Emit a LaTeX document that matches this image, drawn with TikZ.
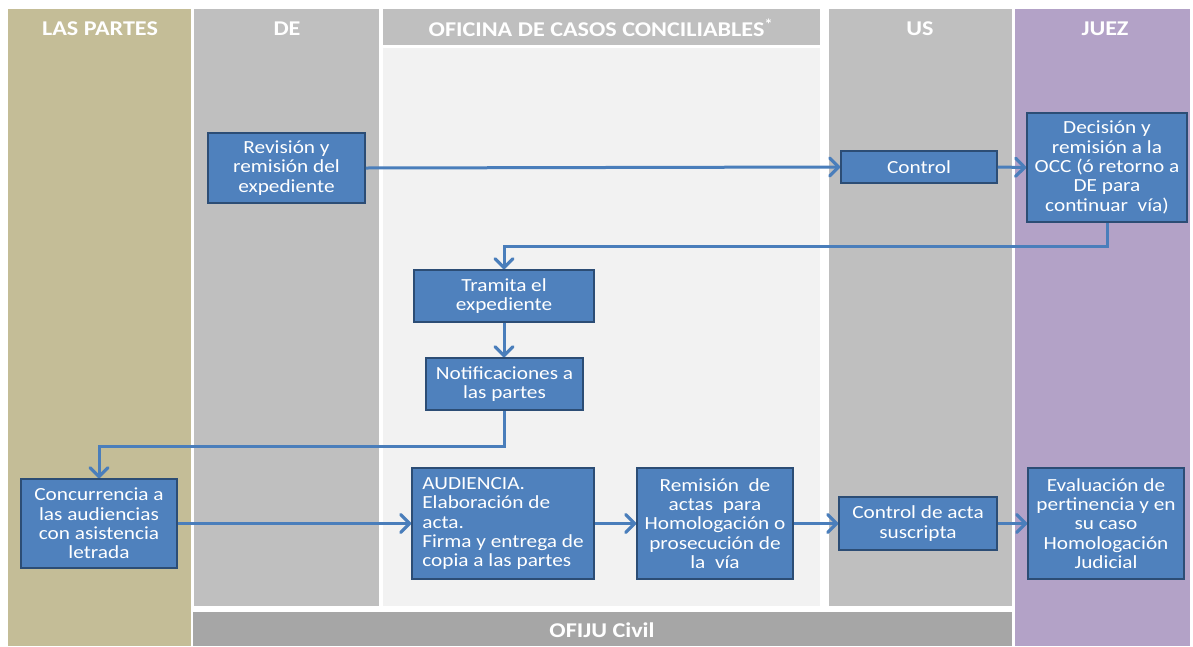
\documentclass[tikz,border=0pt]{standalone}
\usepackage{fontspec}
\setmainfont{Carlito}[FakeStretch=1.15]
\usetikzlibrary{arrows.meta}
\definecolor{tancol}{HTML}{C4BD97}
\definecolor{graycol}{HTML}{BFBFBF}
\definecolor{lightcol}{HTML}{F2F2F2}
\definecolor{purplecol}{HTML}{B3A2C7}
\definecolor{ofijucol}{HTML}{A6A6A6}
\definecolor{boxblue}{HTML}{4F81BD}
\definecolor{boxborder}{HTML}{2C4D75}
\definecolor{flowblue}{HTML}{4A7EBB}
\begin{document}
\begin{tikzpicture}[x=1pt,y=-1pt,
  box/.style={draw=boxborder, line width=1.5pt, fill=boxblue, text=white,
    font=\fontsize{18.5}{19.3}\selectfont, align=center, inner sep=2pt},
  flow/.style={draw=flowblue, line width=3pt,
    -{Straight Barb[length=9pt,width=18pt,line width=3.2pt,round]}},
  hdr/.style={text=white, font=\fontsize{21}{24}\selectfont\bfseries}
]
\useasboundingbox (0,0) rectangle (1193,646);
\fill[white] (0,0) rectangle (1193,646);
% lanes
\fill[tancol] (8,9) rectangle (191,646);
\fill[graycol] (194,9) rectangle (379,606);
\fill[graycol] (383,9) rectangle (820,45);
\fill[lightcol] (383,48) rectangle (820,606);
\fill[graycol] (829,9) rectangle (1012,606);
\fill[purplecol] (1015,9) rectangle (1190,646);
\fill[ofijucol] (193,612) rectangle (1012,646);
% headers
\node[hdr] (hpartes) at (100,29) {LAS PARTES};
\node[hdr] (hde) at (287,29) {DE};
\node[hdr] (hocc) at (601,28) {OFICINA DE CASOS CONCILIABLES\textsuperscript{*}};
\node[hdr] (hus) at (920,29) {US};
\node[hdr] (hjuez) at (1105,29) {JUEZ};
\node[hdr] (hofiju) at (602,630) {OFIJU Civil};
% boxes
\node[box, minimum width=157pt, minimum height=70pt] (rev) at (286.5,168)
  {Revisión y\\remisión del\\expediente};
\node[box, minimum width=156pt, minimum height=32pt] (ctrl) at (919,167)
  {Control};
\node[box, minimum width=160pt, minimum height=109pt] (dec) at (1107,167.5)
  {Decisión y\\remisión a la\\OCC (ó retorno a\\DE para\\continuar\ \ vía)};
\node[box, minimum width=180pt, minimum height=52pt] (tram) at (504,296)
  {Tramita el\\expediente};
\node[box, minimum width=157pt, minimum height=52pt] (notif) at (504.5,384)
  {Notificaciones a\\las partes};
\node[box, minimum width=156pt, minimum height=89pt] (conc) at (99,523.5)
  {Concurrencia a\\las audiencias\\con asistencia\\letrada};
\node[box, minimum width=182pt, minimum height=111pt, align=left] (aud) at (503,523.5)
  {AUDIENCIA.\\Elaboración de\\acta.\\Firma y entrega de\\copia a las partes};
\node[box, minimum width=156pt, minimum height=111pt] (remi) at (715,523.5)
  {Remisión\ \ de\\actas\ \ para\\Homologación o\\prosecución de\\la\ \ vía};
\node[box, minimum width=158pt, minimum height=53pt] (ctra) at (918,523.5)
  {Control de acta\\suscripta};
\node[box, minimum width=156pt, minimum height=111pt] (eval) at (1106,523.5)
  {Evaluación de\\pertinencia y en\\su caso\\Homologación\\Judicial};
% routing points
\coordinate (k1) at (0,246);
\coordinate (k2) at (0,446);
% connectors
\draw[flow] (rev.east) -- (ctrl.west);
\draw[flow] (ctrl.east) -- (dec.west);
\draw[flow] (dec.south) |- (k1 -| tram.north) -- (tram.north);
\draw[flow] (tram.south) -- (tram.south |- notif.north);
\draw[flow] (notif.south) |- (k2 -| conc.north) -- (conc.north);
\draw[flow] (conc.east) -- (aud.west);
\draw[flow] (aud.east) -- (remi.west);
\draw[flow] (remi.east) -- (ctra.west);
\draw[flow] (ctra.east) -- (eval.west);
\end{tikzpicture}
\end{document}
